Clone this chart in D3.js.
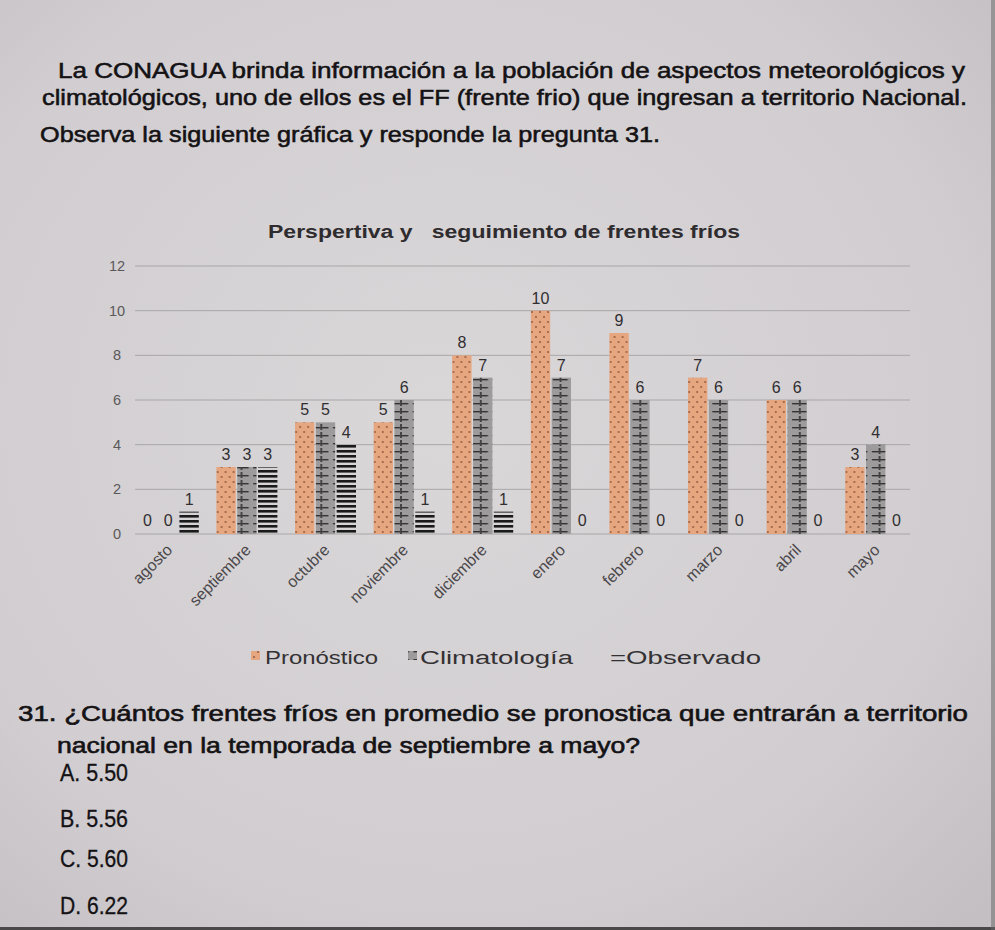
<!DOCTYPE html>
<html><head><meta charset="utf-8">
<script src="https://cdn.jsdelivr.net/npm/d3@7"></script>
<style>html,body{margin:0;padding:0;background:#d3d0d2;}svg{display:block;}</style>
</head><body>
<script>
const months = ["agosto","septiembre","octubre","noviembre","diciembre","enero","febrero","marzo","abril","mayo"];
const pronostico = [0,3,5,5,8,10,9,7,6,3];
const climatologia = [0,3,5,6,7,7,6,6,6,4];
const observado = [1,3,4,1,1,0,0,0,0,0];
const yTicks = [0,2,4,6,8,10,12];
const seriesNames = ["Pronóstico","Climatología","Observado"];

const W=995,H=930;
const svg=d3.select("body").append("svg").attr("width",W).attr("height",H);
const defs=svg.append("defs");
const bg=defs.append("radialGradient").attr("id","paper").attr("cx","45%").attr("cy","45%").attr("r","75%");
bg.append("stop").attr("offset","0%").attr("stop-color","#dad7d9");
bg.append("stop").attr("offset","70%").attr("stop-color","#d1cdd0");
bg.append("stop").attr("offset","100%").attr("stop-color","#c3bfc2");
svg.append("rect").attr("width",W).attr("height",H).attr("fill","url(#paper)");
svg.append("rect").attr("x",0).attr("y",927).attr("width",W).attr("height",3).attr("fill","#4a4849");
svg.append("rect").attr("x",991).attr("y",0).attr("width",4).attr("height",H).attr("fill","#6a6768").attr("opacity",0.5);

const font="'Liberation Sans', Arial, sans-serif";
function para(t,x,y,len,size,sw){
  svg.append("text").attr("x",x).attr("y",y).attr("font-family",font).attr("font-size",size)
   .attr("fill","#141214").attr("stroke","#141214").attr("stroke-width",sw)
   .attr("textLength",len).attr("lengthAdjust","spacingAndGlyphs").text(t);
}
para("La CONAGUA brinda información a la población de aspectos meteorológicos y",58,78,907,22,0.55);
para("climatológicos, uno de ellos es el FF (frente frio) que ingresan a territorio Nacional.",42,105,925,22,0.55);
para("Observa la siguiente gráfica y responde la pregunta 31.",40,142,620,22,0.55);

para("31. ¿Cuántos frentes fríos en promedio se pronostica que entrarán a territorio",18,721,950,22,0.6);
para("nacional en la temporada de septiembre a mayo?",57,753,583,22,0.6);
const opts=[["A. 5.50",781],["B. 5.56",827],["C. 5.60",867],["D. 6.22",914]];
opts.forEach(o=>para(o[0],60,o[1],68,23,0.3));

// chart
const x0=d3.scaleBand().domain(months).range([129,915]).paddingInner(0).paddingOuter(0);
const x1=d3.scaleBand().domain(seriesNames).range([x0.bandwidth()/2-30.5,x0.bandwidth()/2+30.5]).paddingInner(0.07);
const y=d3.scaleLinear().domain([0,12]).range([534,266]);

svg.append("text").attr("x",504).attr("y",238).attr("text-anchor","middle").attr("font-family",font)
  .attr("font-weight","bold").attr("font-size",18).attr("fill","#2e2c2e")
  .attr("textLength",472).attr("lengthAdjust","spacingAndGlyphs")
  .attr("xml:space","preserve").text("Perspertiva y   seguimiento de frentes fríos");

const g=svg.append("g");
g.selectAll("line.grid").data(yTicks).join("line").attr("class","grid")
  .attr("x1",135).attr("x2",910).attr("y1",d=>y(d)).attr("y2",d=>y(d))
  .attr("stroke","#a9a6a8").attr("stroke-width",1);
g.selectAll("text.ytick").data(yTicks).join("text").attr("class","ytick")
  .attr("x",117).attr("y",d=>y(d)+5).attr("text-anchor","middle").attr("font-family",font)
  .attr("font-size",14.5).attr("fill","#5a585a").text(d=>d);

// patterns
const pp=defs.append("pattern").attr("id","pPron").attr("patternUnits","userSpaceOnUse").attr("width",8).attr("height",10);
pp.append("rect").attr("width",8).attr("height",10).attr("fill","#e6a67f");
pp.append("circle").attr("cx",2).attr("cy",2).attr("r",0.9).attr("fill","#8a5238");
pp.append("circle").attr("cx",6).attr("cy",7).attr("r",0.9).attr("fill","#8a5238");

const po=defs.append("pattern").attr("id","pObs").attr("patternUnits","userSpaceOnUse").attr("width",10).attr("height",5);
po.append("rect").attr("y",0).attr("width",10).attr("height",2.6).attr("fill","#1a1a1a");

const bw=x1.bandwidth();
months.forEach((m,i)=>{
  const bx=x0(m)+x1("Climatología");
  const pc=defs.append("pattern").attr("id","pClim"+i).attr("patternUnits","userSpaceOnUse")
    .attr("x",bx).attr("y",0).attr("width",bw).attr("height",8);
  pc.append("rect").attr("width",bw).attr("height",8).attr("fill","#9d9b9c");
  pc.append("rect").attr("x",bw/2-0.7).attr("width",1.4).attr("height",6).attr("fill","#222");
  pc.append("rect").attr("x",2).attr("y",3).attr("width",bw/2-3).attr("height",1.4).attr("fill","#333");
  pc.append("rect").attr("x",bw/2+1).attr("y",3).attr("width",bw/2-3.5).attr("height",1.4).attr("fill","#333");
});

const rows=months.map((m,i)=>({m,i,vals:[pronostico[i],climatologia[i],observado[i]]}));
const grp=g.selectAll("g.grp").data(rows).join("g").attr("class","grp").attr("transform",d=>`translate(${x0(d.m)},0)`);
grp.selectAll("rect.bar").data(d=>d.vals.map((v,k)=>({v,k,i:d.i}))).join("rect").attr("class","bar")
  .attr("x",d=>x1(seriesNames[d.k])).attr("width",bw)
  .attr("y",d=>y(d.v)).attr("height",d=>y(0)-y(d.v))
  .attr("fill",d=>d.k===0?"url(#pPron)":d.k===1?`url(#pClim${d.i})`:"url(#pObs)");
grp.selectAll("text.val").data(d=>d.vals.map((v,k)=>({v,k}))).join("text").attr("class","val")
  .attr("x",d=>x1(seriesNames[d.k])+bw/2).attr("y",d=>y(d.v)-(d.v===0?8:7))
  .attr("text-anchor","middle").attr("font-family",font).attr("font-size",16).attr("fill","#302e30").text(d=>d.v);

// x labels
g.selectAll("text.xl").data(months).join("text").attr("class","xl")
  .attr("transform",d=>`translate(${x0(d)+x0.bandwidth()/2+5},${y(0)+17}) rotate(-45)`)
  .attr("text-anchor","end").attr("font-family",font).attr("font-size",16).attr("fill","#4a484a").text(d=>d);

// legend
const lg=svg.append("g").attr("font-family",font).attr("font-size",18).attr("fill","#333133");
lg.append("rect").attr("x",251).attr("y",651).attr("width",9).attr("height",9).attr("fill","url(#pPron)");
lg.append("text").attr("x",265).attr("y",664).attr("textLength",113).attr("lengthAdjust","spacingAndGlyphs").text(seriesNames[0]);
lg.append("rect").attr("x",408).attr("y",651).attr("width",9).attr("height",9).attr("fill","url(#pClim1)");
lg.append("text").attr("x",420).attr("y",664).attr("textLength",153).attr("lengthAdjust","spacingAndGlyphs").text(seriesNames[1]);
lg.append("text").attr("x",610).attr("y",664).attr("textLength",151).attr("lengthAdjust","spacingAndGlyphs").text("="+seriesNames[2]);
</script>
</body></html>
